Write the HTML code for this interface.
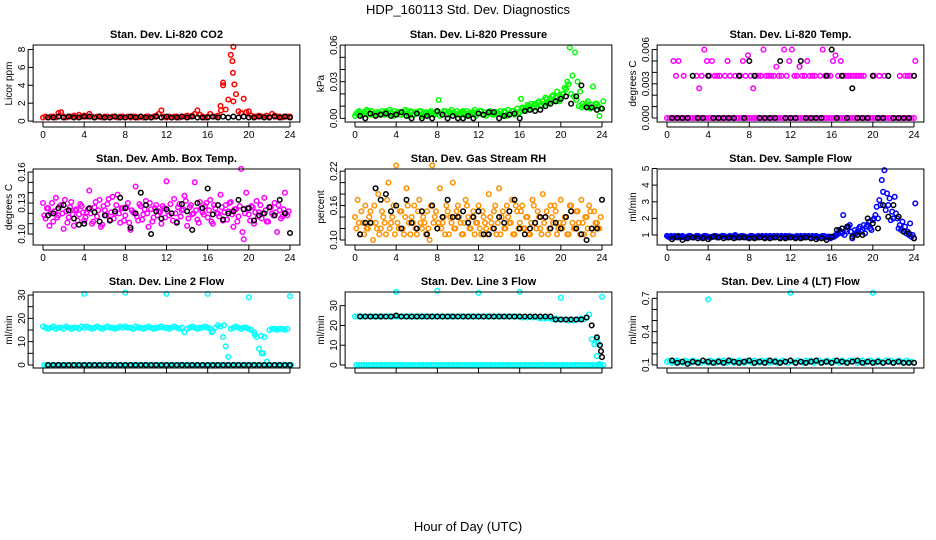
<!DOCTYPE html>
<html><head><meta charset="utf-8"><style>
html,body{margin:0;padding:0;background:#fff}
svg{display:block;font-family:"Liberation Sans",sans-serif}
</style></head><body>
<svg id="chart" width="936" height="540" viewBox="0 0 936 540">
<text x="468" y="14" text-anchor="middle" font-size="13">HDP_160113 Std. Dev. Diagnostics</text>
<text x="468" y="531" text-anchor="middle" font-size="13">Hour of Day (UTC)</text>
</svg>
<script>
// ---------- data ----------
const p1Values=[.4,.5,.4,.5,.5,.4,.9,1.0,.5,.4,.5,.5,.6,.5,.7,.5,.6,
.5,.8,.5,.4,.5,.5,.4,.5,.5,.4,.5,.5,.4,.5,.5,.4,
.5,.4,.5,.5,.4,.5,.4,.5,.5,.4,.5,.6,.8,1.2,.5,.4,
.5,.4,.5,.5,.4,.5,.5,.6,.5,.6,.8,1.2,.7,.5,.4,.5,
.8,.5,.5,.6,1.7,4.3,1.3,2.4,7.4,8.3,3.0,1.1,.9,2.5,1.0,1.1,
.6,.5,.5,.6,.5,.5,.6,.5,.8,.6,.5,.5,.4,.5,.5,.5];
const p1ExtraHours=[17.5,18.4,18.45,18.6,18.5,17.3];
const p1ExtraValues=[4.0,6.7,5.4,4.1,2.2,1.2];
const p1Black=[.4,.4,.5,.4,.5,.4,.4,.5,.5,.4,.5,.4,.4,.5,.4,.4,.5,.4,.5,.4,.4,.5,.4,.5,.4,.4,.5,.4,.5,.4,.4,.4,.5,.4,.5,.4,.5,.4,.5,.4,.4,.5,.4,.4,.5,.4,.5,.4];

const p2Values=[.004,.006,.003,.005,.007,.004,.006,.003,.005,.004,.006,.003,.005,.007,.004,.006,.005,
.003,.005,.007,.004,.006,.003,.005,.004,.006,.003,.005,.004,.006,.003,.005,.015,
.004,.006,.003,.005,.007,.004,.006,.003,.005,.004,.006,.003,.005,.007,.004,.006,
.003,.005,.004,.006,.003,.005,.004,.006,.002,.005,.007,.004,.006,.005,.004,.016,
.008,.006,.01,.012,.009,.011,.014,.01,.012,.016,.013,.018,.015,.022,.014,.02,
.025,.03,.058,.035,.054,.03,.022,.012,.01,.014,.008,.026,.012,.01,.008,.014];
const p2Values2=[.002,.004,.005,.003,.004,.006,.003,.004,.002,.005,.003,.004,.006,.003,.005,.002,.004,
.005,.003,.004,.006,.002,.005,.003,.004,.006,.002,.004,.003,.005,.004,.003,
.005,.002,.004,.006,.003,.005,.002,.004,.003,.005,.006,.002,.004,.003,.005,.002,
.004,.006,.003,.002,.005,.004,.003,.005,.004,.003,.006,.002,.004,.006,.003,.008,
.005,.009,.007,.011,.01,.008,.012,.013,.011,.014,.017,.012,.016,.019,.017,.015,
.018,.02,.024,.028,.02,.018,.015,.01,.009,.01,.012,.009,.011,.009,.012,.002];
const p2Black=[.002,0,.004,.002,.003,.004,.002,.003,.005,.002,0,.004,0,.002,0,.006,.003,0,.002,0,0,.002,0,.004,.003,.005,.005,0,.002,.003,.004,0,.006,.007,.006,.007,.01,.012,.014,.016,.018,.012,.018,.027,.009,.009,.007,.008];

const p3Values=[0,0,0,0,0,0,0,0,0,0,0,0,0,0,0,0,0,
0,0,0,0,0,0,0,0,0,0,0,0,0,0,0,0,
0,0,0,0,0,0,0,0,0,0,0,0,0,0,0,0,
0,0,0,0,0,0,0,0,0,0,0,0,0,0,0,0,
0,0,0,0,0,0,0,0,0,0,0,0,0,0,0,0,
0,0,0,0,0,0,0,0,0,0,0,0,0,0,0,0];
const p3Values2=[null,null,.005,.0037,.005,null,.0037,null,null,null,null,.0037,.0026,.0037,.006,.005,.0037,
.005,.0037,.0037,.0037,null,.0037,.005,.0037,null,.0037,null,.0037,.005,.0037,.0055,.0037,
.0026,.0037,.0037,.0037,.006,.0037,.0037,.0037,.0037,.0045,.0037,.0037,.006,.0037,.005,.006,
.0037,.0037,.0045,.0037,.0037,.005,.0037,.0037,.0037,null,.0037,.006,.0037,.0037,.0037,.005,
.0055,.0037,.005,.0037,.0037,.0037,.0037,.0037,.0037,.0037,.0037,.0037,null,null,null,.0037,
null,.0037,null,.0037,null,null,null,null,null,.0037,null,.0037,.0037,.0037,null,.005];
const p3Black=[0,0,0,0,.0037,0,0,.0037,0,0,0,0,0,.0037,0,.005,.0037,0,0,0,0,.005,0,0,0,.005,0,0,0,0,.0037,.006,0,.0037,0,.0026,0,0,0,.0037,0,0,.0037,0,0,0,0,.0037];

const p4Values=[.13,.115,.125,.12,.112,.135,.118,.128,.105,.122,.116,.131,.108,.124,.119,.127,.113,
.121,.142,.11,.126,.117,.133,.109,.123,.129,.114,.136,.12,.138,.111,.125,
.118,.13,.104,.121,.146,.113,.127,.119,.132,.107,.124,.116,.128,.122,.11,.125,
.151,.118,.12,.134,.112,.129,.123,.137,.108,.126,.119,.15,.114,.131,.121,.127,
.116,.133,.11,.125,.12,.138,.113,.128,.122,.131,.107,.124,.117,.163,.095,.14,
.119,.127,.11,.132,.121,.115,.135,.112,.126,.12,.13,.102,.123,.117,.14,.118];
const p4Values2=[.118,.125,.108,.13,.122,.116,.127,.12,.133,.111,.126,.119,.123,.113,.129,.121,.116,
.124,.12,.112,.131,.123,.107,.127,.118,.134,.121,.115,.128,.12,.125,.113,
.126,.111,.123,.12,.117,.129,.114,.124,.12,.13,.112,.125,.118,.121,.127,.116,
.122,.129,.113,.12,.126,.117,.124,.132,.115,.128,.12,.123,.111,.125,.119,.13,
.123,.112,.128,.12,.117,.126,.121,.114,.13,.119,.124,.112,.127,.102,.12,.125,
.113,.126,.121,.117,.128,.12,.123,.112,.126,.118,.121,.128,.115,.124,.12,.122];
const p4Black=[.118,.12,.125,.128,.123,.115,.109,.11,.125,.121,.112,.118,.113,.122,.135,.125,.106,.12,.14,.128,.1,.122,.115,.124,.12,.111,.129,.122,.104,.13,.125,.144,.119,.128,.114,.12,.122,.133,.124,.125,.113,.118,.12,.126,.118,.133,.12,.101];

const p5Values=[.14,.17,.11,.13,.16,.12,.15,.1,.13,.18,.12,.14,.11,.2,.13,.16,.23,
.12,.15,.11,.19,.13,.14,.16,.11,.17,.12,.13,.15,.1,.23,.14,
.12,.19,.13,.11,.15,.14,.2,.12,.16,.13,.11,.17,.14,.12,.15,.13,
.16,.11,.14,.12,.18,.13,.15,.11,.19,.14,.12,.16,.13,.17,.11,.15,
.13,.16,.12,.14,.11,.17,.13,.15,.12,.18,.14,.11,.16,.13,.15,.12,
.17,.13,.14,.11,.16,.12,.15,.13,.17,.11,.14,.16,.12,.15,.13,.12];
const p5Values2=[.12,.13,.15,.11,.12,.14,.13,.16,.12,.11,.15,.13,.17,.12,.14,.11,.13,
.15,.12,.14,.16,.11,.13,.12,.15,.13,.14,.11,.12,.16,.13,.15,
.13,.12,.14,.16,.11,.13,.12,.15,.14,.11,.13,.16,.12,.14,.11,.13,
.12,.15,.13,.11,.14,.12,.16,.13,.11,.15,.12,.14,.13,.11,.16,.12,
.15,.12,.14,.11,.13,.16,.12,.14,.11,.13,.15,.12,.14,.16,.11,.13,
.12,.14,.11,.16,.13,.12,.15,.11,.13,.14,.12,.15,.11,.13,.12,.14];
const p5Black=[.11,.13,.13,.19,.17,.18,.15,.16,.12,.17,.13,.12,.15,.11,.16,.12,.14,.17,.14,.14,.15,.13,.14,.15,.11,.11,.12,.14,.13,.15,.17,.12,.11,.12,.13,.14,.14,.12,.13,.12,.14,.15,.12,.11,.1,.12,.12,.17];

const p6Values=[.9,.95,.85,.9,.95,.85,.9,.8,.95,.9,.85,.95,.9,.85,.95,.9,.85,
.9,.95,.85,.9,.95,.9,.85,.95,.9,1.0,.9,.85,.95,.9,.85,.95,
.9,.85,.95,.9,.85,.95,.9,.85,.95,.9,.85,.95,.9,.85,.95,.9,
.85,.95,.9,.85,.95,.9,.85,.95,.9,.85,.9,.95,.85,.9,.8,.9,
1.0,1.1,1.2,2.2,1.3,1.5,1.2,1.0,1.1,1.4,1.2,1.6,1.5,1.8,1.3,2.0,
2.7,3.1,4.3,4.9,3.5,3.2,2.4,3.3,2.0,1.6,1.8,1.5,1.2,1.7,1.0,2.9];
const p6Values2=[.95,.85,.9,.95,.85,.9,.95,.85,.9,.95,.85,.9,.95,.85,.9,.95,.9,
.85,.9,.95,.85,.9,.95,.9,.85,.9,.95,.85,.9,.95,.9,.85,.9,
.95,.9,.85,.9,.95,.85,.9,.95,.85,.9,.95,.85,.9,.95,.85,.9,
.9,.85,.9,.95,.85,.9,.95,.85,.9,.95,.85,.9,.95,.85,.9,.85,
.9,1.0,1.3,1.1,1.0,1.2,1.6,.8,1.3,1.2,1.5,1.3,1.1,1.6,1.4,1.9,
2.2,2.0,2.8,3.6,2.5,2.8,1.9,2.0,2.3,1.4,1.3,1.2,1.1,1.0,.9,.8];
const p6Black=[.75,.9,.7,.8,.85,.8,.8,.75,.9,.85,.8,.85,.8,.85,.85,.8,.8,.85,.8,.8,.85,.8,.8,.85,.8,.8,.85,.8,.75,.8,.7,.9,1.3,1.4,1.5,.9,1.0,1.0,2.0,1.7,1.4,2.8,2.1,2.8,2.1,1.2,1.1,.8];

const p7Values=[16.5,16,15.5,16,16.5,15.5,16,16,15.5,16.5,16,15.5,16,16,15.5,16.5,16,
16.5,16,15.5,16,16.5,16,15.5,16,16.5,16,16,15.5,16,16.5,16,
16.5,16,16,15.5,16.5,16,16,15.5,16,16.5,16,15.5,16,16,16.5,16,
16,15.5,16,16.5,16,15.5,16,14,15.5,16,16.5,16,15.5,16,16,16.5,
16,15.5,14.5,16,17,16.5,12,8,3.5,15.5,16,16.5,16,15.5,16,16,
15.5,15,14,12,7,5,12,1.5,15,15.5,15.5,15,15.5,15.5,15,15.5];
const p7Values2=[0,0,0,0,0,0,0,0,0,0,0,0,0,0,0,0,0,
0,0,0,0,0,0,0,0,0,0,0,0,0,0,0,0,
0,0,0,0,0,0,0,0,0,0,0,0,0,0,0,0,
0,0,0,0,0,0,0,0,0,0,0,0,0,0,0,0,
0,0,0,0,0,0,0,0,0,0,0,0,0,0,0,0,
0,0,0,0,0,0,0,0,0,0,0,0,0,0,0,0];
const p7ExtraHours=[4,8,12,16,20,24,16.4,17.6,20.6,21.2,21.4];
const p7ExtraValues=[30.5,31,30.5,30.5,29,29.5,14,17,13,12.5,5];
const p7Black=[0,0,0,0,0,0,0,0,0,0,0,0,0,0,0,0,0,0,0,0,0,0,0,0,0,0,0,0,0,0,0,0,0,0,0,0,0,0,0,0,0,0,0,0,0,0,0,0];

const p8Values=[24.5,24.5,24.5,24.5,24.5,24.5,24.5,24.5,24.5,24.5,24.5,24.5,24.5,24.5,24.5,24.5,24.5,
24.5,24.5,24.5,24.5,24.5,24.5,24.5,24.5,24.5,24.5,24.5,24.5,24.5,24.5,24.5,
24.5,24.5,24.5,24.5,24.5,24.5,24.5,24.5,24.5,24.5,24.5,24.5,24.5,24.5,24.5,24.5,
24.5,24.5,24.5,24.5,24.5,24.5,24.5,24.5,24.5,24.5,24.5,24.5,24.5,24.5,24.5,24.5,
24.5,24,24.5,24,24.5,24,24.5,24,23.5,24,23.5,24,23.5,23,23.5,23,
23,23,23,22.5,23,22.5,23,23,23.5,23,24,25.5,13,10.5,4.5,0.5];
const p8Values2=[0,0,0,0,0,0,0,0,0,0,0,0,0,0,0,0,0,
0,0,0,0,0,0,0,0,0,0,0,0,0,0,0,0,
0,0,0,0,0,0,0,0,0,0,0,0,0,0,0,0,
0,0,0,0,0,0,0,0,0,0,0,0,0,0,0,0,
0,0,0,0,0,0,0,0,0,0,0,0,0,0,0,0,
0,0,0,0,0,0,0,0,0,0,0,0,0,0,0,0];
const p8ExtraHours=[4,8,12,16,20,24,23.5,23.6];
const p8ExtraValues=[37,37.5,36.5,37,34,34.5,13,11];
const p8Black=[24.5,24.5,24.5,24.5,24.5,24.5,24.5,25,24.5,24.5,24.5,24.5,24.5,24.5,24.5,24.5,24.5,24.5,24.5,24.5,24.5,24.5,24.5,24.5,24.5,24.5,24.5,24.5,24.5,24.5,24.5,24.5,24.5,24.5,24.5,24.5,24.5,24.5,23,23,23,23,23,23,24,20,14,4];
const p8BlackExtraHours=[23.8,23.9];
const p8BlackExtraValues=[10,7];

const p9Values=[.13,.14,.12,.13,.14,.13,.12,.14,.13,.12,.14,.13,.13,.12,.14,.13,.12,
.14,.13,.12,.14,.13,.14,.12,.13,.14,.12,.13,.14,.13,.12,.14,
.13,.12,.14,.13,.12,.14,.13,.14,.12,.13,.14,.12,.13,.14,.13,.12,
.14,.13,.12,.14,.13,.12,.14,.13,.14,.12,.13,.14,.12,.13,.14,.13,
.12,.14,.13,.12,.14,.13,.12,.14,.13,.14,.12,.13,.14,.12,.13,.14,
.13,.12,.14,.13,.12,.14,.13,.14,.12,.13,.14,.13,.12,.14,.13,.13];
const p9ExtraHours=[4,12,20];
const p9ExtraValues=[.69,.75,.75];
const p9Black=[.14,.12,.13,.11,.13,.12,.14,.13,.12,.13,.12,.14,.13,.12,.13,.14,.12,.13,.12,.14,.13,.12,.13,.14,.12,.13,.12,.13,.14,.12,.13,.12,.14,.13,.12,.13,.14,.12,.13,.12,.13,.12,.13,.12,.13,.12,.12,.12];

const p1Ticks=[0,2,4,6,8], p1Labels=["0","2","4","6","8"];
const p2Ticks=[0,.01,.02,.03,.04,.05,.06], p2Labels=["0.00","","","0.03","","","0.06"];
const p3Ticks=[0,.001,.002,.003,.004,.005,.006], p3Labels=["0.000","","","0.003","","","0.006"];
const p4Ticks=[.10,.11,.12,.13,.14,.15,.16], p4Labels=["0.10","","","0.13","","","0.16"];
const p5Ticks=[.10,.12,.14,.16,.18,.20,.22], p5Labels=["0.10","","","0.16","","","0.22"];
const p6Ticks=[1,2,3,4,5], p6Labels=["1","2","3","4","5"];
const p7Ticks=[0,5,10,15,20,25,30], p7Labels=["0","","10","","20","","30"];
const p8Ticks=[0,10,20,30], p8Labels=["0","10","20","30"];
const p9Ticks=[.1,.2,.3,.4,.5,.6,.7], p9Labels=["0.1","","","0.4","","","0.7"];
const xTicks=[0,4,8,12,16,20,24];

// ---------- drawing ----------
const NS="http://www.w3.org/2000/svg";
const svg=document.getElementById('chart');
function mk(tag,attrs,parent){const e=document.createElementNS(NS,tag);for(const k in attrs)e.setAttribute(k,attrs[k]);(parent||svg).appendChild(e);return e;}

const panels=[
 {name:'co2',title:'Stan. Dev. Li-820 CO2',ylab:'Licor ppm',col:0,row:0,dom:[-0.1,8.5],ticks:p1Ticks,labels:p1Labels,color:'#ff0000',series:[p1Values],exH:p1ExtraHours,exV:p1ExtraValues,black:p1Black},
 {name:'pressure',title:'Stan. Dev. Li-820 Pressure',ylab:'kPa',col:1,row:0,dom:[-0.003,0.0601],ticks:p2Ticks,labels:p2Labels,color:'#00ff00',series:[p2Values2,p2Values],black:p2Black},
 {name:'li820-temp',title:'Stan. Dev. Li-820 Temp.',ylab:'degrees C',col:2,row:0,dom:[-0.00035,0.0064],ticks:p3Ticks,labels:p3Labels,color:'#ff00ff',series:[p3Values,p3Values2],black:p3Black},
 {name:'amb-box-temp',title:'Stan. Dev. Amb. Box Temp.',ylab:'degrees C',col:0,row:1,dom:[0.0894,0.1629],ticks:p4Ticks,labels:p4Labels,color:'#ff00ff',series:[p4Values,p4Values2],black:p4Black},
 {name:'gas-rh',title:'Stan. Dev. Gas Stream RH',ylab:'percent',col:1,row:1,dom:[0.0913,0.2237],ticks:p5Ticks,labels:p5Labels,color:'#ff9000',series:[p5Values,p5Values2],black:p5Black},
 {name:'sample-flow',title:'Stan. Dev. Sample Flow',ylab:'ml/min',col:2,row:1,dom:[0.4,4.97],ticks:p6Ticks,labels:p6Labels,color:'#0000ff',series:[p6Values2,p6Values],black:p6Black},
 {name:'line2-flow',title:'Stan. Dev. Line 2 Flow',ylab:'ml/min',col:0,row:2,dom:[-1.29,31.3],ticks:p7Ticks,labels:p7Labels,color:'#00ffff',series:[p7Values,p7Values2],exH:p7ExtraHours,exV:p7ExtraValues,black:p7Black,noX:true},
 {name:'line3-flow',title:'Stan. Dev. Line 3 Flow',ylab:'ml/min',col:1,row:2,dom:[-1.5,36.9],ticks:p8Ticks,labels:p8Labels,color:'#00ffff',series:[p8Values,p8Values2],exH:p8ExtraHours,exV:p8ExtraValues,black:p8Black,bH:p8BlackExtraHours,bV:p8BlackExtraValues,noX:true},
 {name:'line4-flow',title:'Stan. Dev. Line 4 (LT) Flow',ylab:'ml/min',col:2,row:2,dom:[0.073,0.757],ticks:p9Ticks,labels:p9Labels,color:'#00ffff',series:[p9Values],exH:p9ExtraHours,exV:p9ExtraValues,black:p9Black,noX:true}
];
const rowsY=[[45,122],[169,245],[292,368]];

panels.forEach(p=>{
 const x0=43+312*p.col, x24=290+312*p.col;
 const xs=h=>x0+(x24-x0)*h/24;
 const [top,bot]=rowsY[p.row];
 const ys=v=>bot-(v-p.dom[0])/(p.dom[1]-p.dom[0])*(bot-top);
 const left=xs(-0.96), right=xs(24.96);
 const g=mk('g',{});
 
 
 const t=mk('text',{x:(left+right)/2,y:top-7,'text-anchor':'middle','font-size':11,'font-weight':'bold'},g);
 t.textContent=p.title;
 
 
 const yl=mk('text',{x:0,y:0,'text-anchor':'middle','font-size':10,transform:`translate(${left-21},${(top+bot)/2}) rotate(-90)`},g);
 yl.textContent=p.ylab;
 
 
 const ptsG=mk('g',{fill:'none','stroke-width':1.5},g);
 
 
 const dot=(h,v,c)=>{ if(v===null||v===undefined)return;
   const c1=mk('circle',{cx:xs(h).toFixed(1),cy:ys(v).toFixed(1),r:2.3,stroke:c},ptsG);
   
   
 };
 p.series.forEach((arr,si)=>arr.forEach((v,i)=>dot(i*0.25+(si%2?0.125:0),v,p.color)));
 if(p.exH) p.exH.forEach((h,i)=>dot(h,p.exV[i],p.color));
 p.black.forEach((v,i)=>dot((i+1)*0.5,v,'#000'));
 if(p.bH) p.bH.forEach((h,i)=>dot(h,p.bV[i],'#000'));
 const fr=mk('rect',{x:left,y:top,width:right-left,height:bot-top,fill:'none',stroke:'#000','stroke-width':1},g);
 
 
 xTicks.forEach(h=>{
   mk('line',{x1:xs(h),x2:xs(h),y1:bot,y2:bot+5,stroke:'#000'},g);
   if(!p.noX){const tl=mk('text',{x:xs(h),y:bot+16,'text-anchor':'middle','font-size':10},g);tl.textContent=h;
     
     }
 });
 mk('line',{x1:xs(0),x2:xs(24),y1:bot+5,y2:bot+5,stroke:'#000'},g);
 p.ticks.forEach((v,i)=>{
   mk('line',{x1:left-5,x2:left,y1:ys(v),y2:ys(v),stroke:'#000'},g);
   if(p.labels[i]){const tl=mk('text',{x:0,y:0,'text-anchor':'middle','font-size':10,transform:`translate(${left-8},${ys(v)}) rotate(-90)`},g);tl.textContent=p.labels[i];
     
     }
 });
 mk('line',{x1:left-5,x2:left-5,y1:ys(p.ticks[0]),y2:ys(p.ticks[p.ticks.length-1]),stroke:'#000'},g);
});
</script>
</body></html>
